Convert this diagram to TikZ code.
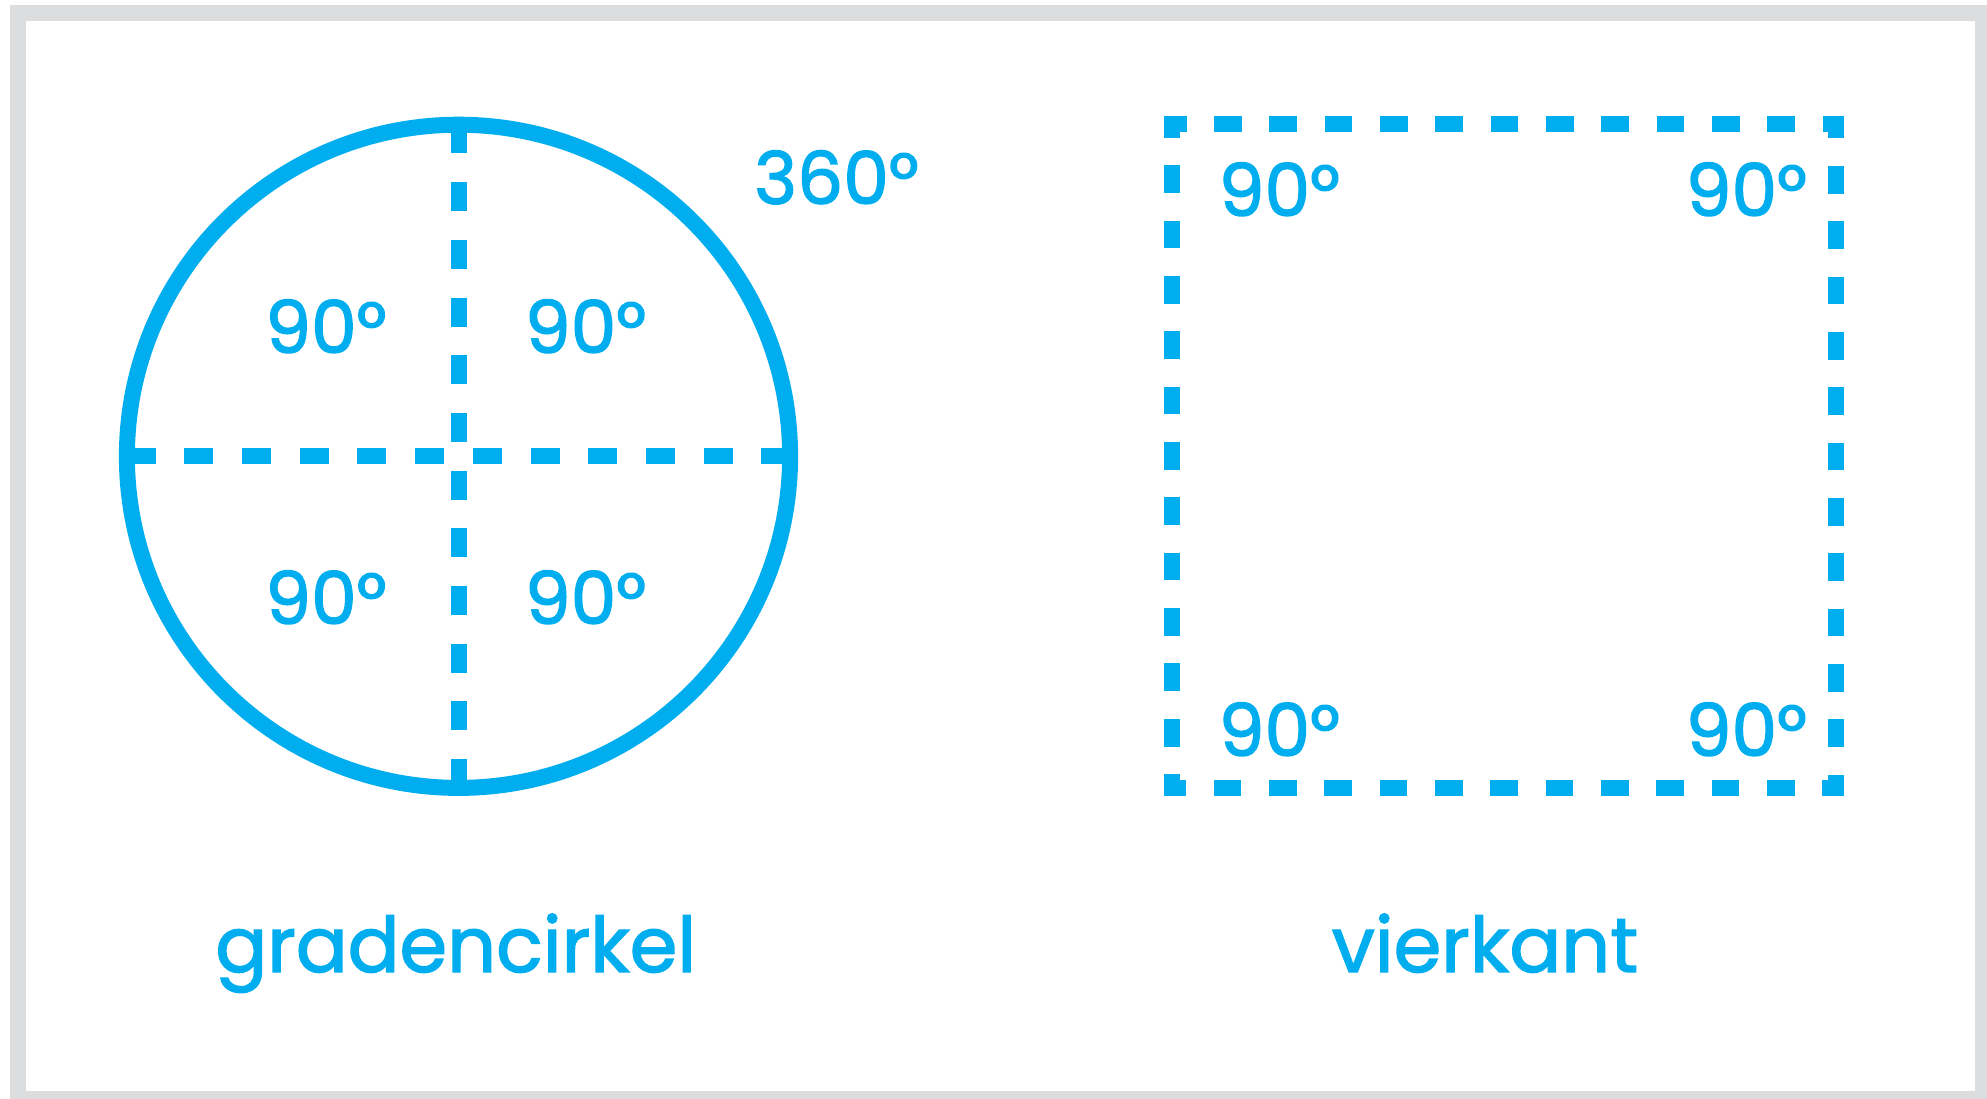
\documentclass[tikz,border=0pt]{standalone}
\usepackage{fontspec}
\setmainfont{Poppins}
\newfontfamily\labelfont{Poppins}[UprightFeatures={FakeBold=1.8}]
\definecolor{cyanblue}{HTML}{00AEEF}
\definecolor{framegray}{HTML}{DCDDDE}
\begin{document}
\begin{tikzpicture}[x=1bp,y=-1bp,
  frameline/.style={draw=framegray,line width=16bp},
  ring/.style={draw=cyanblue,line width=16bp},
  axis/.style={draw=cyanblue,line width=16bp,dash pattern=on 29bp off 28.7bp,dash phase=43.35bp},
  sqbox/.style={draw=cyanblue,line width=16bp,line join=miter,dash pattern=on 27.67bp off 27.67bp,dash phase=41.5bp},
  deg/.style={text=cyanblue,inner sep=0pt,anchor=base,font=\labelfont\fontsize{73}{80}\selectfont},
  caption/.style={text=cyanblue,inner sep=0pt,anchor=base,font=\labelfont\fontsize{77}{85}\selectfont}]
\useasboundingbox (0,0) rectangle (1987,1098);
\begin{scope}
\clip (0,0) rectangle (1987,1098);
\draw[frameline] (18,13) rectangle (1983,1099);
\end{scope}
% circle
\coordinate (c) at (458.5,456.3);
\coordinate (ct) at (458.5,124.7);
\coordinate (cb) at (458.5,787.9);
\coordinate (cl) at (126.9,456.3);
\coordinate (cr) at (790.1,456.3);
\draw[axis] (c) -- (ct);
\draw[axis] (c) -- (cb);
\draw[axis] (c) -- (cl);
\draw[axis] (c) -- (cr);
\draw[ring] (c) circle[radius=331.6];
% square
\coordinate (sqTL) at (1172.3,124.3);
\coordinate (sqTR) at (1836.3,124.3);
\coordinate (sqBR) at (1836.3,788.3);
\coordinate (sqBL) at (1172.3,788.3);
\coordinate (sqS) at (1200,124.3);
\draw[sqbox] (sqS) -- (sqTR) -- (sqBR) -- (sqBL) -- (sqTL) -- cycle;
% labels
\node[deg] (q1) at (325.9,353) {90°};
\node[deg] (q2) at (585.5,353) {90°};
\node[deg] (q3) at (325.9,624) {90°};
\node[deg] (q4) at (585.5,624) {90°};
\node[deg] (full) at (836.5,204) {360°};
\node[deg] (s1) at (1279.3,216) {90°};
\node[deg] (s2) at (1746.3,216) {90°};
\node[deg] (s3) at (1279.3,756) {90°};
\node[deg] (s4) at (1746.3,756) {90°};
\node[caption] (cap1) at (455.8,972) {gradencirkel};
\node[caption] (cap2) at (1485,972) {vierkant};
\end{tikzpicture}
\end{document}
